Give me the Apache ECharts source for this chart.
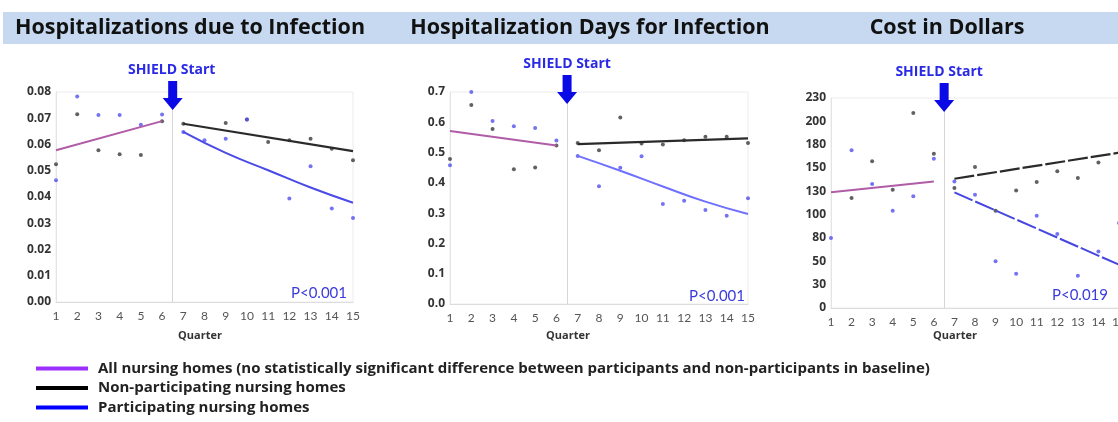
<!DOCTYPE html>
<html>
<head>
<meta charset="utf-8">
<script src="https://cdn.jsdelivr.net/npm/echarts@6/dist/echarts.min.js"></script>
<style>
  html, body { margin: 0; padding: 0; background: #fff; overflow: hidden; }
  #chart { width: 1130px; height: 422px; }
</style>
</head>
<body>
<div id="chart"></div>
<script>
// quarters on the x axis
const quarters = [1, 2, 3, 4, 5, 6, 7, 8, 9, 10, 11, 12, 13, 14, 15]
const preFitQ = [1, 6]
const postFitQ = [7, 15]
const curveFitQ = [7, 9, 11, 13, 15]

const panelTitles = ['Hospitalizations due to Infection', 'Hospitalization Days for Infection', 'Cost in Dollars']
const pValues = ['P<0.001', 'P<0.001', 'P<0.019']

// hospitalizations due to infection
const hospNon = [0.0525, 0.0715, 0.0578, 0.0563, 0.0560, 0.0689, 0.0679, null, 0.0682, 0.0695, 0.0610, 0.0616, 0.0622, 0.0584, 0.0540]
const hospPart = [0.0464, 0.0783, 0.0712, 0.0712, 0.0675, 0.0714, 0.0648, 0.0616, 0.0622, 0.0695, null, 0.0394, 0.0517, 0.0356, 0.0320]
const hospAllFit = [0.0578, 0.0689]
const hospNonFit = [0.0679, 0.0575]
const hospPartFit = [0.0648, 0.0568, 0.0502, 0.0436, 0.0378]

// hospitalization days
const daysNon = [0.479, 0.657, 0.578, 0.445, 0.451, 0.523, 0.532, 0.508, 0.616, 0.530, 0.527, 0.541, 0.552, 0.552, 0.532]
const daysPart = [0.458, 0.700, 0.604, 0.587, 0.581, 0.540, 0.489, 0.389, 0.450, 0.488, 0.330, 0.341, 0.310, 0.291, 0.349]
const daysAllFit = [0.571, 0.523]
const daysNonFit = [0.528, 0.547]
const daysPartFit = [0.489, 0.440, 0.388, 0.338, 0.297]

// cost (axis is evenly spaced, labels as printed)
const costTickLabels = ['0', '30', '50', '80', '100', '130', '150', '180', '200', '230']
const costNon = [null, 117.9, 157.1, 126.8, 208.9, 165.3, 128.6, 151.1, 104.3, 126.0, 135.0, 146.4, 139.3, 156.0, null]
const costPart = [75.0, 168.9, 132.9, 104.3, 119.6, 160.0, 135.6, 121.4, 50.0, 36.8, 98.9, 79.3, 34.6, 60.6, 91.0]
const costAllFit = [123.9, 135.6]
const costNonFit = [138.5, 166.4]
const costPartFit = [123.9, 46.4]

const L1 = 'All nursing homes (no statistically significant difference between participants and non-participants in baseline)'
const L2 = 'Non-participating nursing homes'
const L3 = 'Participating nursing homes'

const FONT = '"Open Sans", Lato, sans-serif'
const chart = echarts.init(document.getElementById('chart'))

const pairs = (xs, ys) => xs.map((x, i) => [x, ys[i]]).filter(p => p[1] != null)

const grids = [
  { left: 56, top: 92, width: 297, height: 210 },
  { left: 450, top: 92, width: 298, height: 212 },
  { left: 831, top: 98, width: 288, height: 210 },
]
const yAxes = [
  { max: 0.08, interval: 0.01, fmt: v => v.toFixed(2) },
  { max: 0.7, interval: 0.1, fmt: v => v.toFixed(1) },
  { max: 225, interval: 25, fmt: v => costTickLabels[Math.round(v / 25)] },
]
const panels = [
  { non: hospNon, part: hospPart, all: hospAllFit, nonFit: hospNonFit, partFit: hospPartFit, partQ: curveFitQ, blue: '#4a4ae8', dash: 'solid' },
  { non: daysNon, part: daysPart, all: daysAllFit, nonFit: daysNonFit, partFit: daysPartFit, partQ: curveFitQ, blue: '#7070ff', dash: 'solid' },
  { non: costNon, part: costPart, all: costAllFit, nonFit: costNonFit, partFit: costPartFit, partQ: postFitQ, blue: '#4646e0', dash: [20, 3] },
]

const series = []
panels.forEach((p, i) => {
  series.push({
    type: 'line', name: L1, xAxisIndex: i, yAxisIndex: i, showSymbol: false, silent: true,
    data: pairs(preFitQ, p.all), lineStyle: { color: '#b05ca6', width: 2 }, itemStyle: { color: '#b05ca6' },
  })
  series.push({
    type: 'line', name: L2, xAxisIndex: i, yAxisIndex: i, showSymbol: false, silent: true,
    data: pairs(postFitQ, p.nonFit), lineStyle: { color: '#2a2a2a', width: 2.2, type: p.dash }, itemStyle: { color: '#2a2a2a' },
  })
  series.push({
    type: 'line', name: L3, xAxisIndex: i, yAxisIndex: i, showSymbol: false, silent: true, smooth: true,
    data: pairs(p.partQ, p.partFit), lineStyle: { color: p.blue, width: 2, type: p.dash }, itemStyle: { color: p.blue },
  })
  series.push({
    type: 'scatter', name: 'non-dots-' + i, xAxisIndex: i, yAxisIndex: i, symbolSize: 4, silent: true,
    data: pairs(quarters, p.non), itemStyle: { color: '#3a3a3a' },
    markLine: {
      silent: true, symbol: 'none', label: { show: false },
      lineStyle: { color: '#d6d6d6', width: 1, type: 'solid' },
      data: [{ xAxis: 6.5 }],
    },
  })
  series.push({
    type: 'scatter', name: 'part-dots-' + i, xAxisIndex: i, yAxisIndex: i, symbolSize: 4, silent: true,
    data: pairs(quarters, p.part), itemStyle: { color: '#5050f0' },
  })
})

chart.setOption({
  animation: false,
  textStyle: { fontFamily: FONT },
  grid: grids.map(g => ({ ...g, show: true, borderColor: '#ececec', borderWidth: 1 })),
  xAxis: grids.map((g, i) => ({
    type: 'value', gridIndex: i, min: 1, max: 15, interval: 1,
    axisLine: { lineStyle: { color: '#dcdcdc' } }, axisTick: { show: false }, splitLine: { show: false },
    axisLabel: { color: '#555', fontSize: 12, margin: 8, fontFamily: 'Lato, sans-serif' },
  })),
  yAxis: yAxes.map((a, i) => ({
    type: 'value', gridIndex: i, min: 0, max: a.max, interval: a.interval,
    axisLine: { show: true, lineStyle: { color: '#e4e4e4' } }, axisTick: { show: false }, splitLine: { show: false },
    axisLabel: { color: '#333', fontSize: 12, fontWeight: 'bold', margin: 5, fontFamily: FONT, formatter: a.fmt },
  })),
  legend: {
    orient: 'vertical', left: 36, top: 361, padding: 0, itemWidth: 52, itemHeight: 4, itemGap: 4.5, icon: 'rect', selectedMode: false,
    textStyle: { fontFamily: FONT, fontWeight: 'bold', fontSize: 15, color: '#222', padding: [0, 0, 0, 5] },
    data: [
      { name: L1, itemStyle: { color: '#9b30ff' } },
      { name: L2, itemStyle: { color: '#000' } },
      { name: L3, itemStyle: { color: '#0000ff' } },
    ],
  },
  series,
})

// annotations placed from the axes' own scale
const titleX = [190, 590, 947]
const quarterX = [200, 568, 955]
const pRight = [347, 745, 1108]
const pY = [293, 296, 295]
const arrowTop = [81, 75, 83]
const labelDx = [-1, 0, -5]

const graphic = [{
  type: 'rect', z: 0, shape: { x: 3, y: 12, width: 1127, height: 32 }, style: { fill: '#c6d9f1' },
}]
panelTitles.forEach((t, i) => {
  graphic.push({ type: 'text', x: titleX[i], y: 28, style: { text: t, fill: '#111', font: 'bold 21.5px ' + FONT, textAlign: 'center', textVerticalAlign: 'middle' } })
  graphic.push({ type: 'text', x: quarterX[i], y: 336, style: { text: 'Quarter', fill: '#333', font: 'bold 11px ' + FONT, textAlign: 'center', textVerticalAlign: 'middle' } })
  graphic.push({ type: 'text', x: pRight[i], y: pY[i], style: { text: pValues[i], fill: '#3b3bdc', font: '15px Lato, sans-serif', textAlign: 'right', textVerticalAlign: 'middle' } })
  const cx = chart.convertToPixel({ xAxisIndex: i }, 6.5)
  const y0 = arrowTop[i]
  graphic.push({
    type: 'polygon', z: 100,
    shape: { points: [[cx - 4.5, y0], [cx + 4.5, y0], [cx + 4.5, y0 + 17], [cx + 10, y0 + 17], [cx, y0 + 29], [cx - 10, y0 + 17], [cx - 4.5, y0 + 17]] },
    style: { fill: '#0a0ae6' },
  })
  graphic.push({ type: 'text', z: 100, x: cx + labelDx[i], y: y0 - 11, style: { text: 'SHIELD Start', fill: '#2a2ae6', font: 'bold 14px ' + FONT, textAlign: 'center', textVerticalAlign: 'middle' } })
})
chart.setOption({ graphic })
</script>
</body>
</html>
